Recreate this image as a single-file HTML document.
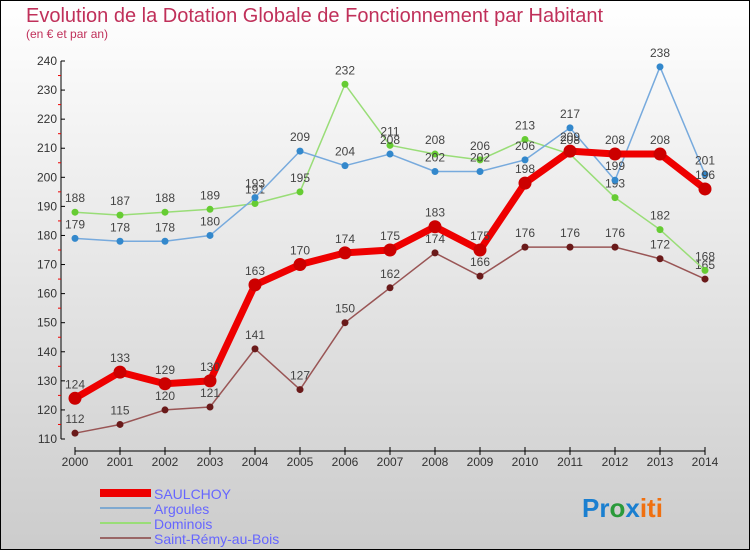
<!DOCTYPE html>
<html><head><meta charset="utf-8"><style>
body{margin:0;width:750px;height:550px;overflow:hidden}
svg{font-family:"Liberation Sans",sans-serif}
</style></head><body>
<svg width="750" height="550">
<defs><linearGradient id="bg" x1="0" y1="0" x2="0" y2="1"><stop offset="0" stop-color="#ffffff"/><stop offset="1" stop-color="#cccccc"/></linearGradient></defs>
<rect x="0.5" y="0.5" width="749" height="549" fill="url(#bg)" stroke="#000"/>
<text x="26" y="22" font-size="20" fill="#c0305a">Evolution de la Dotation Globale de Fonctionnement par Habitant</text>
<text x="26" y="38" font-size="12" fill="#c0305a">(en € et par an)</text>
<g id="axes"></g><g id="series"></g>
<g>
<rect x="100" y="489" width="51" height="8" fill="#e00"/>
<text x="154" y="499" font-size="14" fill="#6666ff">SAULCHOY</text>
<line x1="100" y1="508" x2="151" y2="508" stroke="#7fa9d0" stroke-width="2"/>
<text x="154" y="514" font-size="14" fill="#6666ff">Argoules</text>
<line x1="100" y1="523" x2="151" y2="523" stroke="#99dd77" stroke-width="2"/>
<text x="154" y="529" font-size="14" fill="#6666ff">Dominois</text>
<line x1="100" y1="538" x2="151" y2="538" stroke="#996666" stroke-width="2"/>
<text x="154" y="544" font-size="14" fill="#6666ff">Saint-Rémy-au-Bois</text>
</g>
<text x="582" y="517" font-size="26" font-weight="bold"><tspan fill="#1a7fd0">Pr</tspan><tspan fill="#2a9a3a">o</tspan><tspan fill="#1a7fd0">x</tspan><tspan fill="#f07010">iti</tspan></text>
</svg>
<script>
const years=[2000,2001,2002,2003,2004,2005,2006,2007,2008,2009,2010,2011,2012,2013,2014];
const yTicks=[110,120,130,140,150,160,170,180,190,200,210,220,230,240];
const saulchoy=[124,133,129,130,163,170,174,175,183,175,198,209,208,208,196];
const argoules=[179,178,178,180,193,209,204,208,202,202,206,217,199,238,201];
const dominois=[188,187,188,189,191,195,232,211,208,206,213,208,193,182,168];
const saintRemy=[112,115,120,121,141,127,150,162,174,166,176,176,176,172,165];
const NS="http://www.w3.org/2000/svg";
function X(i){return 75+i*45;}
function Y(v){return 439-(v-110)*(378/130);}
function mk(p,t,a){const e=document.createElementNS(NS,t);for(const k in a)e.setAttribute(k,a[k]);p.appendChild(e);return e;}
const ax=document.getElementById('axes');
let l=mk(ax,'line',{x1:61,y1:Y(240),x2:61,y2:Y(110),stroke:'#000'});


yTicks.forEach(v=>{
  mk(ax,'line',{x1:61,y1:Y(v),x2:65,y2:Y(v),stroke:'#000'});
  if(v<240) mk(ax,'line',{x1:58,y1:Y(v+5),x2:61,y2:Y(v+5),stroke:'#e00'});
  const t=mk(ax,'text',{x:57,y:Y(v)+4,'font-size':12,fill:'#333','text-anchor':'end'});t.textContent=v;
  
  
});
l=mk(ax,'line',{x1:X(0),y1:451,x2:X(14),y2:451,stroke:'#000'});


years.forEach((yr,i)=>{
  mk(ax,'line',{x1:X(i),y1:447,x2:X(i),y2:455,stroke:'#000'});
  const t=mk(ax,'text',{x:X(i),y:466,'font-size':12,fill:'#333','text-anchor':'middle'});t.textContent=yr;
  
  
});
const sg=document.getElementById('series');
function draw(data,name,color,w,r,dot){
  const g=mk(sg,'g',{});
  
  
  mk(g,'polyline',{points:data.map((v,i)=>X(i)+','+Y(v)).join(' '),fill:'none',stroke:color,'stroke-width':w,'stroke-linejoin':'round'});
  data.forEach((v,i)=>{
    const c=mk(g,'circle',{cx:X(i),cy:Y(v),r:r,fill:dot});
    
    
    const t=mk(g,'text',{x:X(i),y:Y(v)-10,'font-size':12,fill:'#444','text-anchor':'middle'});t.textContent=v;
    
    
  });
}
draw(saintRemy,'saint-remy','#995555',1.5,3.5,'#6a1a1a');
draw(dominois,'dominois','#99dd77',1.5,3.5,'#66cc33');
draw(argoules,'argoules','#77aadd',1.5,3.5,'#3388cc');
draw(saulchoy,'saulchoy','#ee0000',7,6.5,'#cc0000');
</script>
</body></html>
